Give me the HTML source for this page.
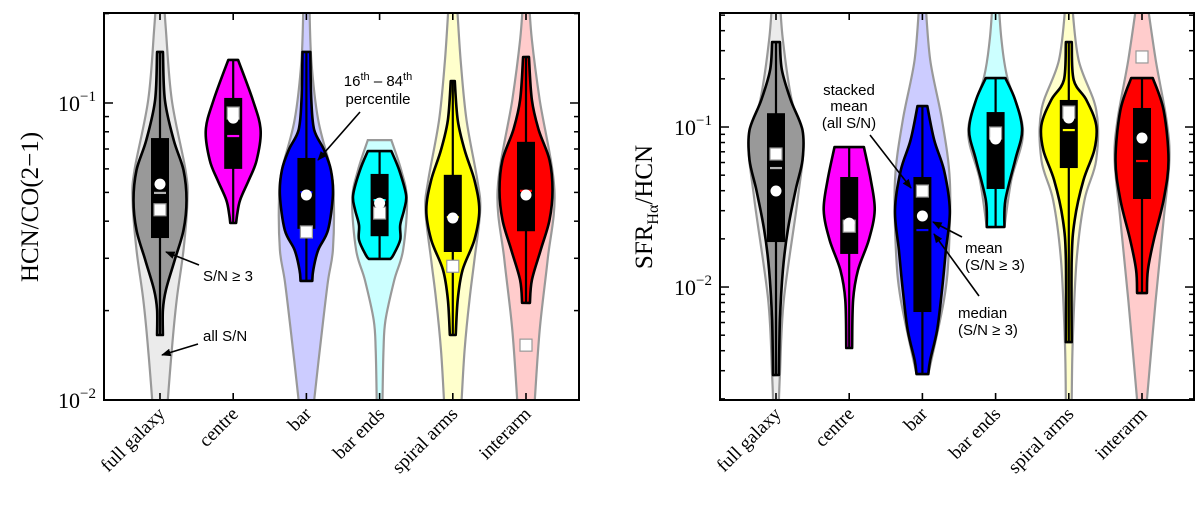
<!DOCTYPE html>
<html><head><meta charset="utf-8"><title>Violin plots</title>
<style>
html,body{margin:0;padding:0;background:#fff;}
svg{display:block;}
.serif{font-family:"Liberation Serif","DejaVu Serif",serif;}
.sans{font-family:"Liberation Sans","DejaVu Sans",sans-serif;}
</style></head>
<body>
<svg id="fig" width="1200" height="505" viewBox="0 0 1200 505" xmlns="http://www.w3.org/2000/svg">
<defs>
<clipPath id="clipL"><rect x="104" y="13" width="475" height="387"/></clipPath>
<clipPath id="clipR"><rect x="720" y="13" width="474" height="387"/></clipPath>
</defs>
<g id="panelL"></g>
<g id="panelR"></g>
</svg>
<script>
// ---------- shared data ----------
const categories = ["full galaxy","centre","bar","bar ends","spiral arms","interarm"];
const coreColors = ["#999999","#ff00ff","#0000ff","#00ffff","#ffff00","#ff0000"];
const allColors  = ["#ebebeb","#ffd0ff","#ccccff","#ccffff","#ffffcc","#ffcccc"];
const medColors  = ["#b4b4b4","#ff00ff","#0000ff","#00ffff","#ffff00","#ff0000"];

// ---------- left panel data: HCN/CO(2-1) ----------
const leftCoreLog = [
 [-0.828,-0.990,-1.125,-1.226,-1.327,-1.428,-1.529,-1.630,-1.697,-1.781],
 [-0.855,-0.990,-1.091,-1.192,-1.259,-1.327,-1.377,-1.404],
 [-0.828,-0.990,-1.091,-1.158,-1.226,-1.310,-1.428,-1.495,-1.562,-1.599],
 [-1.162,-1.226,-1.310,-1.360,-1.411,-1.461,-1.512,-1.525],
 [-0.926,-1.057,-1.158,-1.259,-1.360,-1.461,-1.562,-1.663,-1.781],
 [-0.845,-0.990,-1.091,-1.192,-1.293,-1.394,-1.495,-1.596,-1.673]
];
const leftCoreDens = [
 [3,5,14,24,27,24,15,6,3,3],
 [5,20,28,24,16,7,4,3],
 [4,5,8,18,25,27,22,12,7,6],
 [12,20,27,25,21,21,14,11],
 [2,5,12,22,27,22,10,5,3],
 [3,6,13,24,27,24,15,6,4]
];
const leftAllLog = [
 [-0.653,-0.754,-0.990,-1.226,-1.327,-1.495,-1.663,-1.832,-2.0,-2.067],
 [],
 [-0.653,-0.855,-1.057,-1.226,-1.327,-1.495,-1.599,-1.764,-2.0,-2.067],
 [-1.125,-1.226,-1.327,-1.495,-1.596,-1.731,-1.832,-2.0,-2.067],
 [-0.653,-0.855,-1.057,-1.259,-1.360,-1.529,-1.663,-1.832,-2.0,-2.067],
 [-0.653,-0.788,-0.990,-1.293,-1.529,-1.764,-2.0,-2.067]
];
const leftAllDens = [
 [4,6,12,26,28,24,17,12,8,7],
 [],
 [3,5,12,25,28,27,22,16,8,7],
 [12,22,28,24,15,6,4,3,3],
 [4,8,14,25,28,22,17,12,9,8],
 [3,6,14,29,22,14,9,8]
];
const leftBoxHi   = [0.0762,0.104,0.0653,0.0577,0.0573,0.074];
const leftBoxLo   = [0.0351,0.060,0.0377,0.0356,0.0315,0.037];
const leftMedian  = [0.0498,0.0774,0.0501,0.0471,0.0413,0.0506];
const leftMean    = [0.0533,0.0889,0.049,0.046,0.041,0.049];
const leftStacked = [0.0437,0.0925,0.0368,0.0426,0.0282,0.0153];

// ---------- right panel data: SFR_Halpha/HCN ----------
const rightCoreLog = [
 [-0.469,-0.644,-0.831,-1.019,-1.206,-1.394,-1.644,-1.894,-2.206,-2.55],
 [-1.125,-1.331,-1.519,-1.706,-1.894,-2.081,-2.381],
 [-0.869,-1.081,-1.269,-1.519,-1.769,-2.019,-2.269,-2.456,-2.544],
 [-0.694,-0.831,-1.019,-1.206,-1.456,-1.625],
 [-0.469,-0.706,-0.831,-0.988,-1.144,-1.331,-1.581,-1.831,-2.344],
 [-0.694,-0.894,-1.206,-1.456,-1.706,-1.894,-2.038]
];
const rightCoreDens = [
 [4,6,15,27,27,20,12,7,4,3],
 [15,22,26,20,9,4,3],
 [5,12,22,28,24,20,15,8,6],
 [10,20,27,20,10,9],
 [3,5,18,28,26,15,6,3,3],
 [11,22,27,22,12,6,5]
];
const rightAllLog = [
 [-0.206,-0.456,-0.831,-1.081,-1.456,-2.081,-2.55,-2.706],
 [],
 [-0.206,-0.581,-0.956,-1.331,-1.769,-2.081,-2.544],
 [-0.206,-0.456,-0.694,-1.019,-1.331,-1.625],
 [-0.206,-0.581,-0.894,-1.206,-1.456,-1.831,-2.344,-2.706],
 [-0.206,-0.581,-0.956,-1.206,-1.581,-2.081,-2.706]
];
const rightAllDens = [
 [4,7,16,28,22,8,4,3],
 [],
 [3,8,20,28,27,22,6],
 [3,6,12,28,16,9],
 [3,10,28,28,16,8,4,3],
 [5,14,25,28,22,14,5]
];
const rightBoxHi   = [0.122,0.0487,0.0487,0.124,0.1476,0.1315];
const rightBoxLo   = [0.0191,0.0161,0.00698,0.041,0.0554,0.0355];
const rightMedian  = [0.0554,0.0230,0.0227,0.093,0.0957,0.0613];
const rightMean    = [0.0398,0.0251,0.0278,0.0841,0.1138,0.0853];
const rightStacked = [0.0678,0.024,0.0398,0.0917,0.124,0.274];

// ---------- helpers ----------
const NS = "http://www.w3.org/2000/svg";
function mk(tag, attrs, parent){
  const e = document.createElementNS(NS, tag);
  for (const k in attrs) e.setAttribute(k, attrs[k]);
  parent.appendChild(e);
  return e;
}
function seg(pts){
  let d = "";
  for (let i=0;i<pts.length-1;i++){
    const p0 = pts[i-1]||pts[i], p1 = pts[i], p2 = pts[i+1], p3 = pts[i+2]||p2;
    const c1x = p1[0]+(p2[0]-p0[0])/6, c1y = p1[1]+(p2[1]-p0[1])/6;
    const c2x = p2[0]-(p3[0]-p1[0])/6, c2y = p2[1]-(p3[1]-p1[1])/6;
    d += ` C${c1x.toFixed(1)},${c1y.toFixed(1)} ${c2x.toFixed(1)},${c2y.toFixed(1)} ${p2[0].toFixed(1)},${p2[1].toFixed(1)}`;
  }
  return d;
}
function violinPath(cx, logs, dens, yOfLog){
  const k = 0.98;
  const right = logs.map((l,i)=>[cx+dens[i]*k, yOfLog(l)]);
  const left  = logs.map((l,i)=>[cx-dens[i]*k, yOfLog(l)]).reverse();
  return `M${right[0][0]},${right[0][1]}` + seg(right) + ` L${left[0][0]},${left[0][1]}` + seg(left) + " Z";
}

function drawPanel(cfg){
  const g = document.getElementById(cfg.gid);
  const {x0,x1,y0,y1,logMin,logMax} = cfg;
  const yOfLog = l => y1 - (l-logMin)/(logMax-logMin)*(y1-y0);
  const yScale = v => yOfLog(Math.log10(v));
  const xScale = i => x0 + (i+0.765)*73.2;

  const plot = mk("g", {"clip-path":`url(#${cfg.clip})`}, g);
  
  

  categories.forEach((c,i)=>{
    const cx = xScale(i);
    const vg = mk("g", {}, plot);
    
    
    if (cfg.allLog[i].length){
      const a = mk("path", {d:violinPath(cx,cfg.allLog[i],cfg.allDens[i],yOfLog), fill:allColors[i], stroke:"#999", "stroke-width":2.2}, vg);
      
      
    }
    const core = cfg.coreLog[i];
    const p = mk("path", {d:violinPath(cx,core,cfg.coreDens[i],yOfLog), fill:coreColors[i], stroke:"#000", "stroke-width":2.6, "stroke-linejoin":"round"}, vg);
    
    
    const wl = mk("line", {x1:cx,x2:cx,y1:yOfLog(core[0]),y2:yOfLog(core[core.length-1]),stroke:"#000","stroke-width":2.2}, vg);
    
    
    const yb1 = yScale(cfg.boxHi[i]), yb2 = yScale(cfg.boxLo[i]);
    const bx = mk("rect", {x:cx-9,y:yb1,width:18,height:yb2-yb1,fill:"#000"}, vg);
    
    
    const md = mk("line", {x1:cx-6,x2:cx+6,y1:yScale(cfg.median[i]),y2:yScale(cfg.median[i]),stroke:medColors[i],"stroke-width":2.2}, vg);
    
    
    const sq = mk("rect", {x:cx-6,y:yScale(cfg.stacked[i])-6,width:12,height:12,fill:"#fff",stroke:"#999","stroke-width":1.2}, vg);
    
    
    const mn = mk("circle", {cx:cx,cy:yScale(cfg.mean[i]),r:5.5,fill:"#fff"}, vg);
    
    
  });

  const fr = mk("rect", {x:x0,y:y0,width:x1-x0,height:y1-y0,fill:"none",stroke:"#000","stroke-width":2}, g);
  
  

  categories.forEach((c,i)=>{
    const cx = xScale(i);
    const t1 = mk("line", {x1:cx,x2:cx,y1:y1,y2:y1-7,stroke:"#000","stroke-width":1.6}, g);
    
    
    const t2 = mk("line", {x1:cx,x2:cx,y1:y0,y2:y0+7,stroke:"#000","stroke-width":1.6}, g);
    
    
    const tl = mk("text", {x:cx+6,y:y1+15,"text-anchor":"end","font-size":19,class:"serif",transform:`rotate(-45 ${cx+6} ${y1+15})`}, g);
    tl.textContent = c;
    
    
  });

  for (let d=Math.floor(logMin); d<=Math.ceil(logMax); d++){
    for (let m=1; m<=9; m++){
      const l = d + Math.log10(m);
      if (l < logMin-1e-6 || l > logMax+1e-6) continue;
      const y = yOfLog(l), len = m===1 ? 9 : 5;
      const a = mk("line", {x1:x0,x2:x0+len,y1:y,y2:y,stroke:"#000","stroke-width":1.5}, g);
      
      
      const b = mk("line", {x1:x1,x2:x1-len,y1:y,y2:y,stroke:"#000","stroke-width":1.5}, g);
      
      
      if (m===1){
        const t = mk("text", {x:x0-8,y:y+8,"text-anchor":"end","font-size":22,class:"serif"}, g);
        
        
        t.appendChild(document.createTextNode("10"));
        const s = mk("tspan", {dy:-10,"font-size":15}, t);
        s.textContent = "−" + Math.abs(d);
      }
    }
  }
}

drawPanel({gid:"panelL",clip:"clipL",x0:104,x1:579,y0:13,y1:400,logMin:-2,logMax:-0.697,
  coreLog:leftCoreLog,coreDens:leftCoreDens,allLog:leftAllLog,allDens:leftAllDens,
  boxHi:leftBoxHi,boxLo:leftBoxLo,median:leftMedian,mean:leftMean,stacked:leftStacked});
drawPanel({gid:"panelR",clip:"clipR",x0:720,x1:1194,y0:13,y1:400,logMin:-2.706,logMax:-0.2875,
  coreLog:rightCoreLog,coreDens:rightCoreDens,allLog:rightAllLog,allDens:rightAllDens,
  boxHi:rightBoxHi,boxLo:rightBoxLo,median:rightMedian,mean:rightMean,stacked:rightStacked});
</script>

<svg width="1200" height="505" style="position:absolute;left:0;top:0;pointer-events:none" xmlns="http://www.w3.org/2000/svg">
<defs>
<marker id="arr2" viewBox="0 0 10 10" refX="9" refY="5" markerWidth="6" markerHeight="6" orient="auto"><path d="M0,1 L10,5 L0,9 z" fill="#000"/></marker>
</defs>
<text class="serif" font-size="25" transform="translate(38 207) rotate(-90)" text-anchor="middle">HCN/CO(2−1)</text>
<text class="serif" font-size="25" transform="translate(652 207) rotate(-90)" text-anchor="middle">SFR<tspan dy="6" font-size="16">Hα</tspan><tspan dy="-6">/HCN</tspan></text>

<g class="sans" font-size="15">
<text x="203" y="281">S/N ≥ 3</text>
<line x1="199" y1="265" x2="166" y2="252" stroke="#000" stroke-width="1.6" marker-end="url(#arr2)"/>
</g>
<g class="sans" font-size="15">
<text x="203" y="341">all S/N</text>
<line x1="198" y1="344" x2="162" y2="355" stroke="#000" stroke-width="1.6" marker-end="url(#arr2)"/>
</g>
<g class="sans" font-size="15" text-anchor="middle">
<text x="378" y="86">16<tspan dy="-6" font-size="11">th</tspan><tspan dy="6"> – 84</tspan><tspan dy="-6" font-size="11">th</tspan></text>
<text x="378" y="104">percentile</text>
<line x1="360" y1="112" x2="318" y2="160" stroke="#000" stroke-width="1.6" marker-end="url(#arr2)"/>
</g>
<g class="sans" font-size="15" text-anchor="middle">
<text x="849" y="95">stacked</text>
<text x="849" y="111">mean</text>
<text x="849" y="128">(all S/N)</text>
<line x1="870" y1="135" x2="911" y2="188" stroke="#000" stroke-width="1.6" marker-end="url(#arr2)"/>
</g>
<g class="sans" font-size="15">
<text x="965" y="253">mean</text>
<text x="965" y="270">(S/N ≥ 3)</text>
<line x1="962" y1="237" x2="933" y2="222" stroke="#000" stroke-width="1.6" marker-end="url(#arr2)"/>
</g>
<g class="sans" font-size="15">
<text x="958" y="318">median</text>
<text x="958" y="335">(S/N ≥ 3)</text>
<line x1="979" y1="296" x2="934" y2="234" stroke="#000" stroke-width="1.6" marker-end="url(#arr2)"/>
</g>
</svg>
</body></html>
